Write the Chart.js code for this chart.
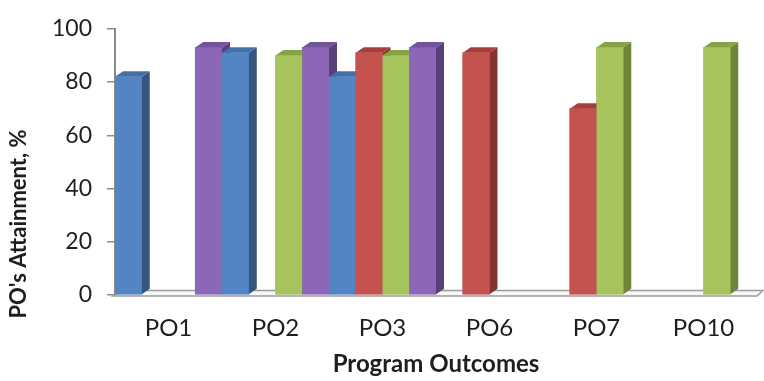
<!DOCTYPE html>
<html>
<head>
<meta charset="utf-8">
<script src="https://cdn.jsdelivr.net/npm/chart.js@4/dist/chart.umd.min.js"></script>
<style>
  html, body { margin: 0; padding: 0; background: #ffffff; }
  #wrap { width: 764px; height: 381px; }
</style>
</head>
<body>
<div id="wrap"><canvas id="chart" width="764" height="381"></canvas></div>
<script>
// Programme outcome attainment (%), four assessment series per outcome
const CATEGORIES = ['PO1', 'PO2', 'PO3', 'PO6', 'PO7', 'PO10'];
const SERIES_BLUE   = [82, 91, 82, null, null, null];
const SERIES_RED    = [null, null, 91, 91, 70, null];
const SERIES_GREEN  = [null, 90, 90, null, 93, 93];
const SERIES_PURPLE = [93, 93, 93, null, null, null];
const Y_TICKS = [0, 20, 40, 60, 80, 100];

const Y_TITLE = "PO's Attainment, %";
const X_TITLE = 'Program Outcomes';

// oblique depth of the pseudo-3D bars and floor
const DEPTH_X = 8;
const DEPTH_Y = -5.5;

const bar3d = {
  id: 'bar3d',
  beforeDatasetsDraw(chart) {
    const { ctx, chartArea: a } = chart;
    const base = chart.scales.y.getPixelForValue(0);
    ctx.save();
    ctx.beginPath();
    ctx.moveTo(a.left - 2, base + 1);
    ctx.lineTo(a.right, base + 1);
    ctx.lineTo(a.right + DEPTH_X - 2, base + 1 + DEPTH_Y);
    ctx.lineTo(a.left - 2 + DEPTH_X, base + 1 + DEPTH_Y);
    ctx.closePath();
    ctx.fillStyle = '#f7f7f7';
    ctx.fill();
    ctx.strokeStyle = '#9b9b9b';
    ctx.lineWidth = 1.5;
    ctx.stroke();
    ctx.restore();
  },
  afterDatasetsDraw(chart) {
    const { ctx } = chart;
    const items = [];
    chart.data.datasets.forEach((ds, i) => {
      chart.getDatasetMeta(i).data.forEach((el, j) => {
        if (ds.data[j] == null) return;
        const p = el.getProps(['x', 'y', 'base', 'width'], true);
        items.push({ l: p.x - p.width / 2, r: p.x + p.width / 2, y: p.y, b: p.base, ds });
      });
    });
    items.sort((m, n) => m.l - n.l);
    ctx.save();
    for (const it of items) {
      // right side face
      ctx.beginPath();
      ctx.moveTo(it.r, it.y);
      ctx.lineTo(it.r + DEPTH_X, it.y + DEPTH_Y);
      ctx.lineTo(it.r + DEPTH_X, it.b + DEPTH_Y);
      ctx.lineTo(it.r, it.b);
      ctx.closePath();
      ctx.fillStyle = it.ds.sideColor;
      ctx.fill();
      // top face
      ctx.beginPath();
      ctx.moveTo(it.l, it.y);
      ctx.lineTo(it.l + DEPTH_X, it.y + DEPTH_Y);
      ctx.lineTo(it.r + DEPTH_X, it.y + DEPTH_Y);
      ctx.lineTo(it.r, it.y);
      ctx.closePath();
      ctx.fillStyle = it.ds.topColor;
      ctx.fill();
      // front face
      ctx.fillStyle = it.ds.backgroundColor;
      ctx.fillRect(it.l, it.y, it.r - it.l, it.b - it.y);
    }
    ctx.restore();
  },
  afterDraw(chart) {
    const { ctx, chartArea: a } = chart;
    ctx.save();
    ctx.fillStyle = '#1e1e1e';
    ctx.textAlign = 'center';
    ctx.textBaseline = 'middle';
    ctx.font = 'bold 24px Lato';
    ctx.fillText(X_TITLE, (a.left + a.right) / 2, 364);
    ctx.font = 'bold 22px Lato';
    ctx.translate(19, 224);
    ctx.rotate(-Math.PI / 2);
    ctx.fillText(Y_TITLE, 0, 0);
    ctx.restore();
  }
};

const mk = (label, data, front, side, top) => ({
  label, data,
  backgroundColor: front,
  sideColor: side,
  topColor: top,
  borderWidth: 0,
  categoryPercentage: 1.0,
  barPercentage: 1.0
});

new Chart(document.getElementById('chart'), {
  type: 'bar',
  data: {
    labels: CATEGORIES,
    datasets: [
      mk('Series 1', SERIES_BLUE,   '#5385c4', '#35557f', '#4470a8'),
      mk('Series 2', SERIES_RED,    '#c4524f', '#833331', '#a63f3c'),
      mk('Series 3', SERIES_GREEN,  '#a5c45e', '#6c8538', '#86a445'),
      mk('Series 4', SERIES_PURPLE, '#8c67b8', '#58407a', '#71549a')
    ]
  },
  options: {
    responsive: false,
    devicePixelRatio: 1,
    animation: false,
    layout: { padding: { top: 18, right: 7, left: 0, bottom: 0 } },
    plugins: { legend: { display: false }, tooltip: { enabled: false } },
    scales: {
      x: {
        grid: { display: false, drawTicks: false },
        border: { display: false },
        ticks: { font: { family: 'Lato', size: 24 }, color: '#1e1e1e', padding: 19, maxRotation: 0, autoSkip: false },
        afterFit: s => { s.height = 86; }
      },
      y: {
        min: 0, max: 100,
        afterBuildTicks: s => { s.ticks = Y_TICKS.map(v => ({ value: v })); },
        ticks: { font: { family: 'Lato', size: 23 }, color: '#1e1e1e', padding: 15 },
        grid: { drawOnChartArea: false, drawTicks: true, tickLength: 8, color: '#8c8c8c', lineWidth: 1.5 },
        border: { display: true, color: '#8c8c8c', width: 2 },
        afterFit: s => { s.width = 115; }
      }
    }
  },
  plugins: [bar3d]
});
</script>
</body>
</html>
